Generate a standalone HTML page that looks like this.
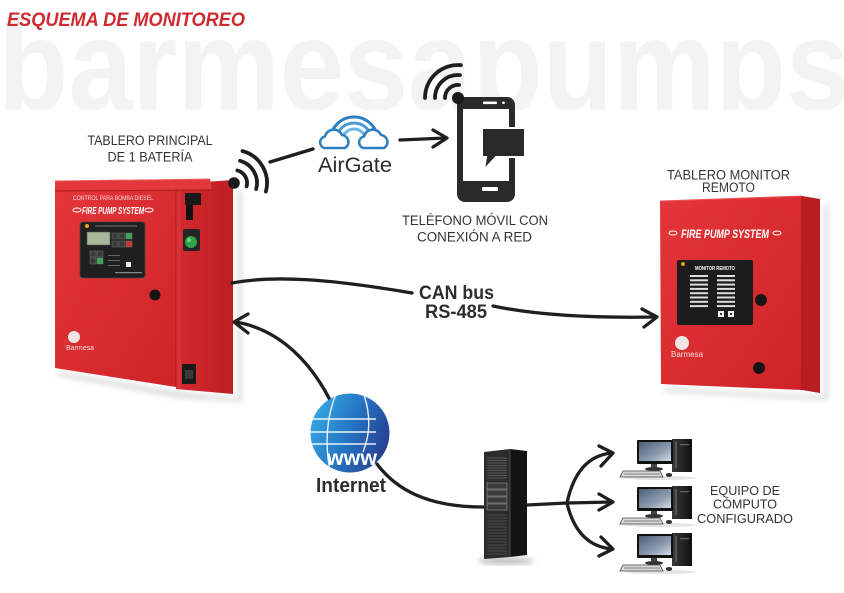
<!DOCTYPE html>
<html><head><meta charset="utf-8"><style>html,body{margin:0;padding:0;background:#fff}svg{display:block}</style></head>
<body>
<svg xmlns="http://www.w3.org/2000/svg" width="844" height="593" viewBox="0 0 844 593">
<defs>
  <clipPath id="wm"><rect x="0" y="0" width="844" height="110"/></clipPath>
  <linearGradient id="front" x1="0" y1="0" x2="1" y2="1">
    <stop offset="0" stop-color="#e4363a"/><stop offset="1" stop-color="#cf2327"/>
  </linearGradient>
  <linearGradient id="side" x1="0" y1="0" x2="1" y2="0">
    <stop offset="0" stop-color="#d42a2e"/><stop offset="1" stop-color="#bd1f23"/>
  </linearGradient>
  <linearGradient id="globe" x1="0" y1="0.3" x2="1" y2="0.7">
    <stop offset="0" stop-color="#35a8e3"/><stop offset="0.5" stop-color="#2473c2"/><stop offset="1" stop-color="#283b8d"/>
  </linearGradient>
  <linearGradient id="scr" x1="0" y1="0" x2="1" y2="1">
    <stop offset="0" stop-color="#4d5e74"/><stop offset="0.6" stop-color="#8c9bb0"/><stop offset="1" stop-color="#d5dde6"/>
  </linearGradient>
  <linearGradient id="tower" x1="0" y1="0" x2="1" y2="0">
    <stop offset="0" stop-color="#3a3a3a"/><stop offset="1" stop-color="#101010"/>
  </linearGradient>
  <clipPath id="gc"><circle cx="350" cy="433" r="39.5"/></clipPath>
  <filter id="blur" x="-20%" y="-20%" width="140%" height="140%"><feGaussianBlur stdDeviation="3"/></filter>
  <g id="pc">
    <ellipse cx="40" cy="40" rx="36" ry="2" fill="#e4e4e4"/>
    <rect x="52" y="1" width="20" height="33" fill="url(#tower)"/>
    <rect x="55" y="4" width="2" height="26" fill="#555"/>
    <rect x="60" y="6" width="9" height="1.2" fill="#666"/>
    <rect x="17" y="2" width="36" height="24" rx="1" fill="#111"/>
    <rect x="19" y="4" width="32" height="19" fill="url(#scr)"/>
    <rect x="31" y="26" width="6" height="4" fill="#444"/>
    <ellipse cx="34" cy="31" rx="9" ry="2" fill="#333"/>
    <polygon points="3,33 40,33 43,39 0,39" fill="#d8d8d8" stroke="#444" stroke-width="0.8"/>
    <line x1="4" y1="36" x2="40" y2="36" stroke="#666" stroke-width="0.8"/>
    <ellipse cx="49" cy="37" rx="3.2" ry="2" fill="#333"/>
  </g>
</defs>
<rect width="844" height="593" fill="#fff"/>

<!-- watermark -->
<text x="-2" y="110" font-family="Liberation Sans, sans-serif" font-weight="bold" font-size="130" fill="#f3f3f3" textLength="852" lengthAdjust="spacingAndGlyphs" clip-path="url(#wm)">barmesapumps</text>

<!-- title -->
<text x="7" y="26" font-family="Liberation Sans, sans-serif" font-weight="bold" font-style="italic" font-size="19" fill="#cf2a2f" textLength="238" lengthAdjust="spacingAndGlyphs">ESQUEMA DE MONITOREO</text>

<!-- labels -->
<g font-family="Liberation Sans, sans-serif" fill="#333" text-anchor="middle">
  <text x="150" y="145" font-size="14" textLength="125" lengthAdjust="spacingAndGlyphs">TABLERO PRINCIPAL</text>
  <text x="150" y="161.5" font-size="14" textLength="85" lengthAdjust="spacingAndGlyphs">DE 1 BATERÍA</text>
  <text x="475" y="225" font-size="13.5" textLength="146" lengthAdjust="spacingAndGlyphs">TELÉFONO MÓVIL CON</text>
  <text x="474.5" y="241.5" font-size="13.5" textLength="115" lengthAdjust="spacingAndGlyphs">CONEXIÓN A RED</text>
  <text x="728.5" y="179.5" font-size="13.5" textLength="123" lengthAdjust="spacingAndGlyphs">TABLERO MONITOR</text>
  <text x="728.5" y="192" font-size="13.5" textLength="53" lengthAdjust="spacingAndGlyphs">REMOTO</text>
  <text x="745" y="495" font-size="13" textLength="70" lengthAdjust="spacingAndGlyphs">EQUIPO DE</text>
  <text x="745" y="508.5" font-size="13" textLength="64" lengthAdjust="spacingAndGlyphs">CÓMPUTO</text>
  <text x="745" y="523" font-size="13" textLength="96" lengthAdjust="spacingAndGlyphs">CONFIGURADO</text>
</g>

<!-- main cabinet shadow -->
<polygon points="60,372 180,392 238,398 238,190 242,190 242,402 180,398 58,376" fill="#999" opacity="0.35" filter="url(#blur)"/>
<!-- main cabinet -->
<polygon points="176,184 233,180 233,394 176,389" fill="url(#side)"/>
<polygon points="176,186 181,186 181,389 176,389" fill="#d93236"/>
<polygon points="55,190 176,190 176,387 55,368" fill="url(#front)"/>
<line x1="176" y1="190" x2="176" y2="387" stroke="#a81a1d" stroke-width="1"/>
<polygon points="55,181 210,179 212,190 55,191" fill="#e2383b"/>
<line x1="55" y1="181" x2="210" y2="179" stroke="#f06466" stroke-width="1"/>
<line x1="55" y1="191" x2="212" y2="190" stroke="#a81a1d" stroke-width="1"/>
<text x="113" y="200" font-family="Liberation Sans, sans-serif" font-size="6.5" fill="#f6d6d6" text-anchor="middle" textLength="80" lengthAdjust="spacingAndGlyphs">CONTROL PARA BOMBA DIESEL</text>
<ellipse cx="77" cy="210" rx="4" ry="2" fill="none" stroke="#fff" stroke-width="1"/>
<ellipse cx="149" cy="210" rx="4" ry="2" fill="none" stroke="#fff" stroke-width="1"/>
<text x="113" y="214" font-family="Liberation Sans, sans-serif" font-size="10" font-weight="bold" font-style="italic" fill="#fff" text-anchor="middle" textLength="62" lengthAdjust="spacingAndGlyphs">FIRE PUMP SYSTEM</text>
<!-- control panel -->
<rect x="80" y="222" width="65" height="56" rx="3" fill="#1f1f1f" stroke="#444" stroke-width="0.8"/>
<circle cx="87" cy="226" r="2" fill="#e8a020"/>
<rect x="95" y="225.5" width="42" height="1" fill="#777"/>
<rect x="87" y="232" width="23" height="13" fill="#a8b89a" stroke="#555" stroke-width="0.6"/>
<g stroke="#777" stroke-width="0.5">
  <rect x="112" y="233" width="6" height="6" fill="#3a3a3a"/>
  <rect x="119" y="233" width="6" height="6" fill="#3a3a3a"/>
  <rect x="126" y="233" width="6" height="6" fill="#3aa65a"/>
  <rect x="112" y="241" width="6" height="6" fill="#3a3a3a"/>
  <rect x="119" y="241" width="6" height="6" fill="#3a3a3a"/>
  <rect x="126" y="241" width="6" height="6" fill="#d03030"/>
  <rect x="90" y="251" width="6" height="6" fill="#3a3a3a"/>
  <rect x="97" y="251" width="6" height="6" fill="#3a3a3a"/>
  <rect x="90" y="258" width="6" height="6" fill="#3a3a3a"/>
  <rect x="97" y="258" width="6" height="6" fill="#3aa65a"/>
</g>
<rect x="108" y="255" width="12" height="1" fill="#666"/>
<rect x="108" y="260" width="12" height="1" fill="#666"/>
<rect x="108" y="265" width="12" height="1" fill="#666"/>
<rect x="126" y="262" width="5" height="5" fill="#eee"/>
<rect x="115" y="272" width="27" height="1.2" fill="#888"/>
<circle cx="155" cy="295" r="5.5" fill="#151515"/>
<circle cx="74" cy="337" r="6" fill="#f1e4e4"/>
<text x="66" y="350" font-family="Liberation Sans, sans-serif" font-size="7" fill="#f5dede">Barmesa</text>
<!-- side components -->
<rect x="185" y="193" width="16" height="12" fill="#1a1a1a"/>
<rect x="186" y="205" width="7" height="15" fill="#111"/>
<rect x="183" y="229" width="17" height="22" rx="2" fill="#252525"/>
<circle cx="191" cy="242" r="6" fill="#2fa54a"/>
<circle cx="189" cy="240" r="2" fill="#6fd487"/>
<rect x="182" y="364" width="14" height="20" fill="#1a1a1a"/>
<rect x="185" y="370" width="8" height="9" fill="#3a3a3a"/>

<!-- remote cabinet -->
<polygon points="664,388 804,395 824,396 824,205 828,205 828,400 804,399 664,392" fill="#999" opacity="0.35" filter="url(#blur)"/>
<polygon points="802,196 820,199 820,393 802,390" fill="#b81f22"/>
<polygon points="660,201 802,196 802,390 661,384" fill="url(#front)"/>
<line x1="660" y1="201" x2="802" y2="196" stroke="#ef5a5c" stroke-width="1"/>
<line x1="802" y1="196" x2="802" y2="390" stroke="#9f181b" stroke-width="1"/>
<ellipse cx="673" cy="233" rx="4" ry="2" fill="none" stroke="#fff" stroke-width="1"/>
<ellipse cx="777" cy="233" rx="4" ry="2" fill="none" stroke="#fff" stroke-width="1"/>
<text x="725" y="238" font-family="Liberation Sans, sans-serif" font-size="12" font-weight="bold" font-style="italic" fill="#fff" text-anchor="middle" textLength="88" lengthAdjust="spacingAndGlyphs">FIRE PUMP SYSTEM</text>
<rect x="677" y="260" width="76" height="65" rx="2" fill="#1c1c1c"/>
<circle cx="683" cy="264" r="2" fill="#e8a020"/>
<text x="715" y="270" font-family="Liberation Sans, sans-serif" font-size="5.5" font-weight="bold" fill="#fff" text-anchor="middle" textLength="40" lengthAdjust="spacingAndGlyphs">MONITOR REMOTO</text>
<g fill="#dcdcdc">
  <rect x="690" y="275" width="18" height="2"/><rect x="717" y="275" width="18" height="2"/>
  <rect x="690" y="279.3" width="18" height="2"/><rect x="717" y="279.3" width="18" height="2"/>
  <rect x="690" y="283.6" width="18" height="2"/><rect x="717" y="283.6" width="18" height="2"/>
  <rect x="690" y="287.9" width="18" height="2"/><rect x="717" y="287.9" width="18" height="2"/>
  <rect x="690" y="292.2" width="18" height="2"/><rect x="717" y="292.2" width="18" height="2"/>
  <rect x="690" y="296.5" width="18" height="2"/><rect x="717" y="296.5" width="18" height="2"/>
  <rect x="690" y="300.8" width="18" height="2"/><rect x="717" y="300.8" width="18" height="2"/>
  <rect x="690" y="305.1" width="18" height="2"/><rect x="717" y="305.1" width="18" height="2"/>
</g>
<rect x="718" y="311" width="6" height="6" fill="#eee"/><rect x="728" y="311" width="6" height="6" fill="#eee"/>
<rect x="720" y="313" width="2" height="2" fill="#333"/><rect x="730" y="313" width="2" height="2" fill="#333"/>
<circle cx="761" cy="300" r="6" fill="#151515"/>
<circle cx="759" cy="368" r="6" fill="#151515"/>
<circle cx="682" cy="343" r="7" fill="#f0e4e4"/>
<text x="671" y="357" font-family="Liberation Sans, sans-serif" font-size="8" fill="#f5dede">Barmesa</text>

<!-- wifi -->
<g fill="none" stroke="#1e1e1e" stroke-width="3.8" stroke-linecap="round">
  <path d="M237.4 170.4 A13 13 0 0 1 246.6 186.4"/>
  <path d="M240 160.8 A23 23 0 0 1 256.2 189"/>
  <path d="M242.5 151.1 A33 33 0 0 1 265.9 191.5"/>
  <path d="M445 98 A13 13 0 0 1 459.1 85"/>
  <path d="M435 98 A23 23 0 0 1 460 75.1"/>
  <path d="M425 98 A33 33 0 0 1 460.9 65.1"/>
</g>
<circle cx="234" cy="183" r="5.8" fill="#1a1a1a"/>

<!-- phone -->
<rect x="457" y="97" width="58" height="105" rx="8" fill="#2a2a2a"/>
<rect x="463" y="109" width="46" height="72" fill="#fff"/>
<rect x="483" y="101.5" width="14" height="2.6" rx="1" fill="#fff"/>
<circle cx="503.5" cy="102.8" r="1.3" fill="#fff"/>
<rect x="482" y="187" width="16" height="4" rx="1" fill="#fff"/>
<path d="M482 128 H525 V157 H496 L484 170 L486 157 H482 Z" fill="#2a2a2a" stroke="#fff" stroke-width="2" stroke-linejoin="miter"/>
<circle cx="458" cy="98" r="6" fill="#1a1a1a"/>

<!-- airgate -->
<g fill="none" stroke-width="3">
  <path d="M330 141 A24 24 0 0 1 378 141" stroke="#2f7fc1"/>
  <path d="M336 141 A18 18 0 0 1 372 141" stroke="#4a9bd6"/>
  <path d="M342 141 A12 12 0 0 1 366 141" stroke="#6bb8e8"/>
</g>
<g fill="#fff" stroke="#2f80c3" stroke-width="2.6" stroke-linejoin="round">
  <path d="M324 148 A6 6 0 0 1 325 136.5 A9 9 0 0 1 342 135 A7 7 0 0 1 345 148 Z"/>
  <path d="M361 148 A6 6 0 0 1 362 136.5 A9 9 0 0 1 379 135 A7 7 0 0 1 382 148 Z" transform="translate(2,0)"/>
</g>
<text x="355" y="172" font-family="Liberation Sans, sans-serif" font-size="21" fill="#2d2d2d" text-anchor="middle" textLength="74" lengthAdjust="spacingAndGlyphs">AirGate</text>

<!-- connectors -->
<g fill="none" stroke="#1f1f1f" stroke-width="3.3" stroke-linecap="round" stroke-linejoin="round">
  <line x1="270" y1="162" x2="313" y2="149"/>
  <line x1="400" y1="140" x2="446" y2="138"/>
  <polyline points="433,130 447,138 433,147"/>
  <path d="M232 283 C275 275 330 279 412 293"/>
  <path d="M493 306 C540 316 600 318 656 317"/>
  <polyline points="642,309 657,317 644,327"/>
  <path d="M330 400 C312 365 282 330 236 322"/>
  <polyline points="248,314 234,322 248,333"/>
  <path d="M377 464 C395 488 425 507 483 507"/>
  <path d="M527 505 L567 503"/>
  <path d="M567 503 C574 470 590 455 612 453"/>
  <path d="M567 503 L612 502"/>
  <path d="M567 503 C574 533 590 547 612 549"/>
  <polyline points="599,446 613,453 601,466"/>
  <polyline points="599,494 613,502 599,510"/>
  <polyline points="601,537 613,549 599,556"/>
</g>
<g font-family="Liberation Sans, sans-serif" font-weight="bold" fill="#2d2d2d" text-anchor="middle">
  <text x="456.5" y="299" font-size="19" textLength="75" lengthAdjust="spacingAndGlyphs">CAN bus</text>
  <text x="456" y="318" font-size="19" textLength="62" lengthAdjust="spacingAndGlyphs">RS-485</text>
</g>

<!-- globe -->
<circle cx="350" cy="433" r="39.5" fill="url(#globe)"/>
<g clip-path="url(#gc)" stroke="#fff" stroke-width="1.4" fill="none" opacity="0.9">
  <line x1="308" y1="419" x2="376" y2="419"/>
  <line x1="308" y1="432" x2="376" y2="432"/>
  <line x1="308" y1="444" x2="376" y2="444"/>
  <path d="M336 394 Q322 428 330 472"/>
  <path d="M364 395 Q374 425 363 452"/>
</g>
<text x="352" y="465" font-family="Liberation Sans, sans-serif" font-weight="bold" font-size="21" fill="#fff" text-anchor="middle" textLength="50" lengthAdjust="spacingAndGlyphs">www</text>
<text x="351" y="492" font-family="Liberation Sans, sans-serif" font-weight="bold" font-size="20" fill="#2d2d2d" text-anchor="middle" textLength="70" lengthAdjust="spacingAndGlyphs">Internet</text>

<!-- server -->
<ellipse cx="506" cy="561" rx="28" ry="3.5" fill="#bbb" filter="url(#blur)"/>
<polygon points="484,452 510,449 510,557 484,559" fill="#2c2c2c"/>
<polygon points="510,449 527,451 527,555 510,557" fill="#141414"/>
<line x1="510" y1="449" x2="510" y2="557" stroke="#555" stroke-width="0.8"/>
<g stroke="#6a6a6a" stroke-width="0.8">
  <line x1="487" y1="458" x2="507" y2="458"/><line x1="487" y1="460.5" x2="507" y2="460.5"/>
  <line x1="487" y1="463" x2="507" y2="463"/><line x1="487" y1="465.5" x2="507" y2="465.5"/>
  <line x1="487" y1="468" x2="507" y2="468"/><line x1="487" y1="470.5" x2="507" y2="470.5"/>
  <line x1="487" y1="473" x2="507" y2="473"/><line x1="487" y1="475.5" x2="507" y2="475.5"/>
  <line x1="487" y1="478" x2="507" y2="478"/>
</g>
<g fill="#3a3a3a" stroke="#8a8a8a" stroke-width="0.7">
  <rect x="487" y="483" width="20" height="6"/><rect x="487" y="490" width="20" height="6"/>
  <rect x="487" y="497" width="20" height="6"/><rect x="487" y="504" width="20" height="6"/>
</g>
<g stroke="#555" stroke-width="0.8">
  <line x1="487" y1="515" x2="507" y2="515"/><line x1="487" y1="518" x2="507" y2="518"/>
  <line x1="487" y1="521" x2="507" y2="521"/><line x1="487" y1="524" x2="507" y2="524"/>
  <line x1="487" y1="527" x2="507" y2="527"/><line x1="487" y1="530" x2="507" y2="530"/>
  <line x1="487" y1="533" x2="507" y2="533"/><line x1="487" y1="536" x2="507" y2="536"/>
  <line x1="487" y1="539" x2="507" y2="539"/><line x1="487" y1="542" x2="507" y2="542"/>
  <line x1="487" y1="545" x2="507" y2="545"/><line x1="487" y1="548" x2="507" y2="548"/>
  <line x1="487" y1="551" x2="507" y2="551"/><line x1="487" y1="554" x2="507" y2="554"/>
</g>

<!-- computers -->
<use href="#pc" x="620" y="438"/>
<use href="#pc" x="620" y="485"/>
<use href="#pc" x="620" y="532"/>
</svg>
</body></html>
